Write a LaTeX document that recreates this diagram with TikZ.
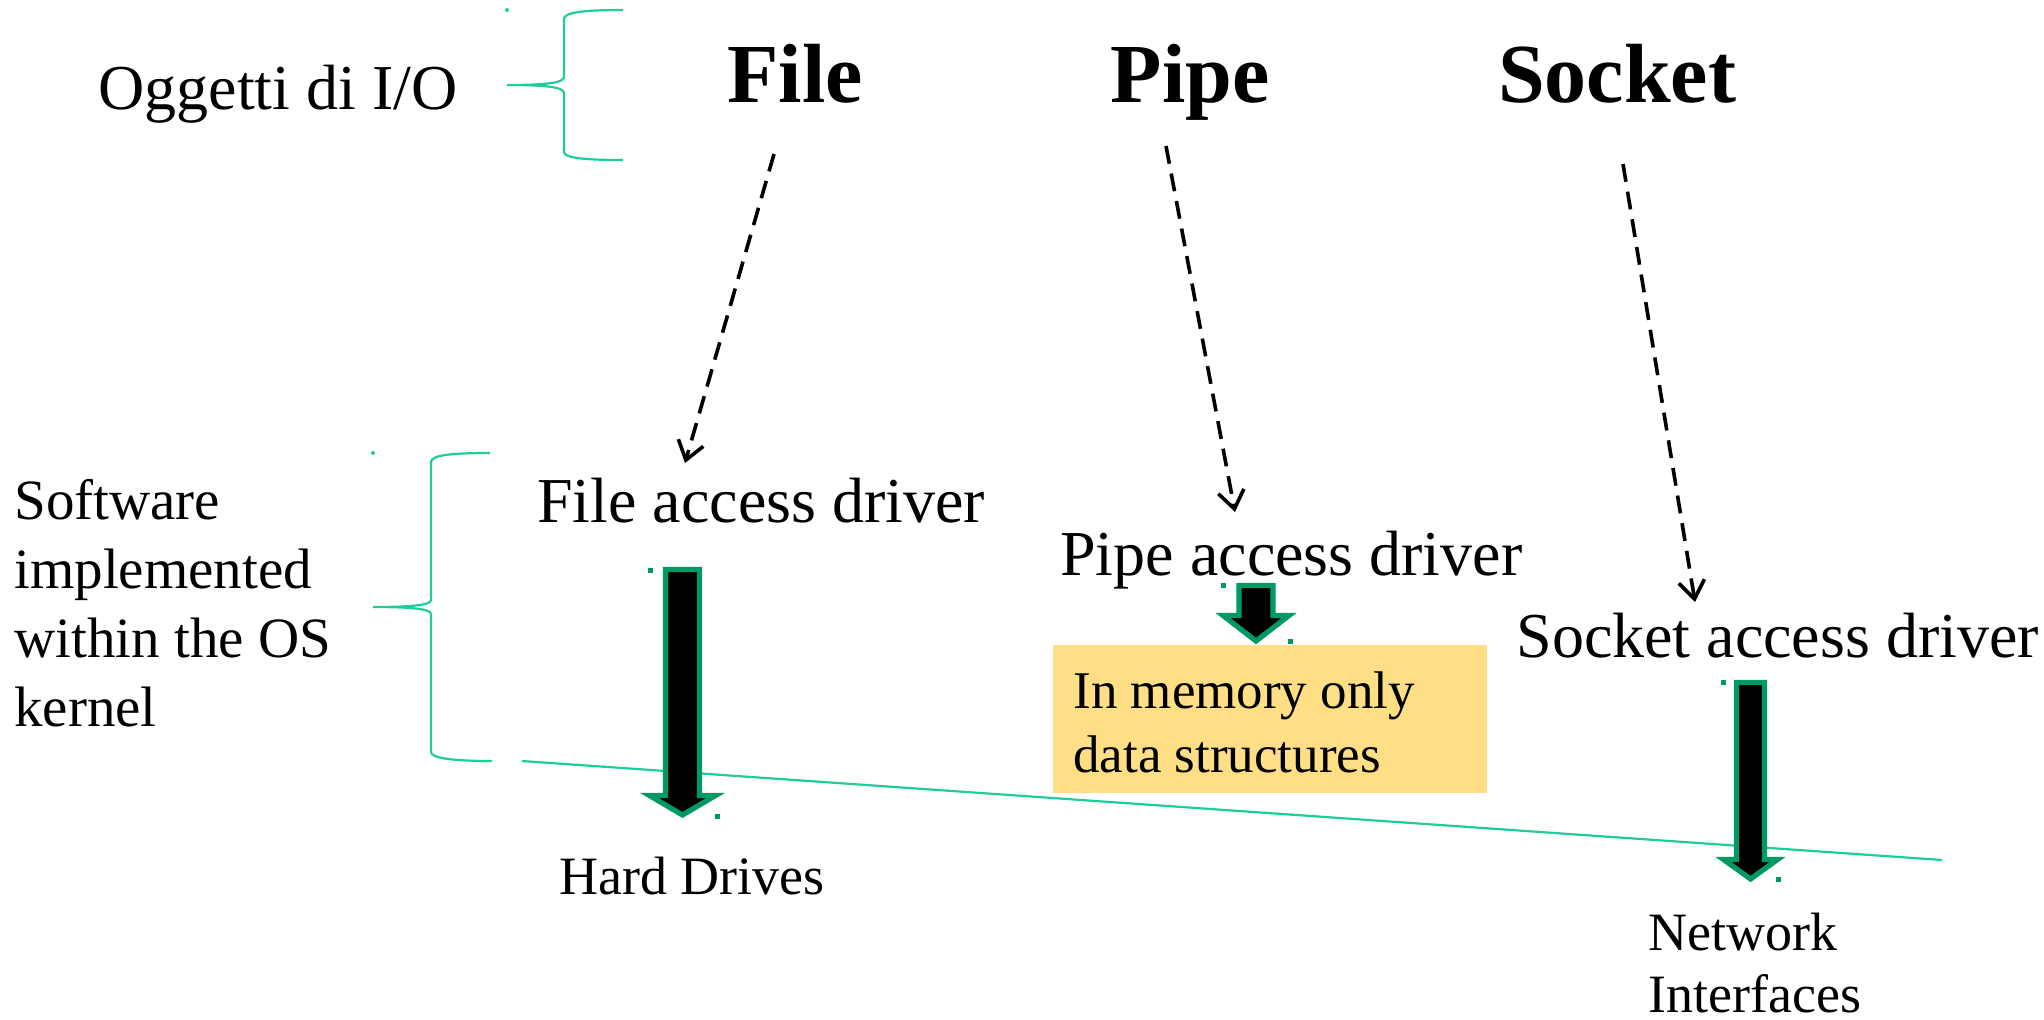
\documentclass[tikz,border=0pt]{standalone}
\usepackage{fontspec}
\setmainfont{Liberation Serif}
\usetikzlibrary{arrows.meta}
\definecolor{bracecol}{HTML}{1DCD9A}
\definecolor{arrowgreen}{HTML}{009966}
\definecolor{memfill}{HTML}{FFDF86}
\newcommand{\myblockarrow}[6]{% cx, top, half shaft, head top, half head, tip
  \draw[blockarrow] ({#1-#3},#2) -- ({#1+#3},#2) -- ({#1+#3},#4) -- ({#1+#5},#4)
    -- (#1,#6) -- ({#1-#5},#4) -- ({#1-#3},#4) -- cycle;}
\newcommand{\mymark}[2]{\fill[markbox] ({#1-2.5},{#2-2.5}) rectangle ({#1+2.5},{#2+2.5});}
\begin{document}
\begin{tikzpicture}[x=0.5pt,y=-0.5pt,
  bracestyle/.style={draw=bracecol, line width=1.1pt},
  link/.style={line width=1.8pt, dash pattern=on 9pt off 5pt,
    -{Straight Barb[length=9pt,width=13pt]}},
  blockarrow/.style={draw=arrowgreen, fill=black, line width=2.6pt, line join=miter},
  markbox/.style={fill=arrowgreen},
  titletxt/.style={font=\bfseries\fontsize{42}{46}\selectfont, inner sep=0pt, anchor=base},
  txt/.style={font=\fontsize{32}{34.5}\selectfont, inner sep=0pt, anchor=base west},
  sidetxt/.style={font=\fontsize{28.5}{34.5}\selectfont, inner sep=0pt, anchor=base west},
  smalltxt/.style={font=\fontsize{27}{31}\selectfont, inner sep=0pt, anchor=base west},
  memtxt/.style={font=\fontsize{26.5}{32}\selectfont, inner sep=0pt, anchor=base west},
  membox/.style={fill=memfill, inner sep=0pt, anchor=north west}]
\useasboundingbox (0,0) rectangle (2044,1019);

% braces
\draw[bracestyle] (623,10) .. controls (585,10) and (564,12) .. (564,19) -- (564,77)
  .. controls (564,83) and (545,85) .. (507,85)
  .. controls (545,85) and (564,87) .. (564,93) -- (564,152)
  .. controls (564,158) and (585,160) .. (623,160);
\fill[bracecol] (507,10) circle (1pt);
\draw[bracestyle] (490,453) .. controls (452,453) and (431,455) .. (431,462) -- (431,600)
  .. controls (431,605) and (412,607) .. (373,607)
  .. controls (412,607) and (431,609) .. (431,614) -- (431,752)
  .. controls (431,758) and (452,761) .. (492,761);
\fill[bracecol] (373,453) circle (1pt);
\draw[bracestyle] (522,761) -- (1942,860);

% memory box
\node[membox, minimum width=217pt, minimum height=74pt] (mem) at (1053,645) {};
\node[memtxt] (memtext) at (1073,708)
  {\begin{tabular}[t]{@{}l@{}}In memory only\\data structures\end{tabular}};

% texts
\node[txt] (oggetti) at (98,109) {Oggetti di I/O};
\node[titletxt] (file) at (795,102) {File};
\node[titletxt] (pipe) at (1190,102) {Pipe};
\node[titletxt] (socket) at (1617,102) {Socket};
\node[sidetxt] (sw) at (14,519)
  {\begin{tabular}[t]{@{}l@{}}Software\\implemented\\within the OS\\kernel\end{tabular}};
\node[txt] (fdrv) at (537,522) {File access driver};
\node[txt] (pdrv) at (1060,575) {Pipe access driver};
\node[txt] (sdrv) at (1516,657) {Socket access driver};
\node[smalltxt] (hd) at (559,894) {Hard Drives};
\node[smalltxt] (net) at (1648,950)
  {\begin{tabular}[t]{@{}l@{}}Network\\Interfaces\end{tabular}};

% dashed links
\coordinate (f1) at (774,154); \coordinate (f2) at (685,463);
\coordinate (p1) at (1166,146); \coordinate (p2) at (1235,512);
\coordinate (s1) at (1623,164); \coordinate (s2) at (1695,602);
\draw[link] (f1) -- (f2);
\draw[link] (p1) -- (p2);
\draw[link] (s1) -- (s2);

% block arrows
\myblockarrow{682.5}{569.5}{17}{795.5}{33}{815}
\myblockarrow{1256}{585.5}{17}{615.5}{33}{641}
\myblockarrow{1750.5}{682.5}{14}{859.5}{27}{879}
\mymark{650}{570}\mymark{717}{816}
\mymark{1223}{585}\mymark{1290}{641}
\mymark{1723}{682}\mymark{1778}{879}
\end{tikzpicture}
\end{document}
